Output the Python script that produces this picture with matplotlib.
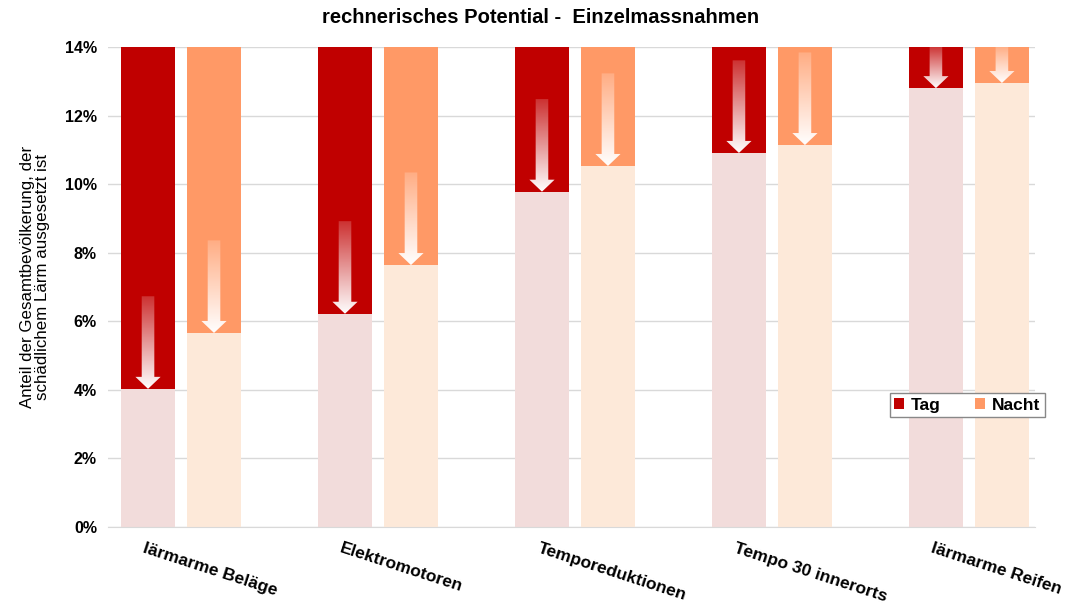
import matplotlib.pyplot as plt
import numpy as np
from matplotlib.patches import Polygon

plt.rcParams['font.family'] = ['Liberation Sans', 'DejaVu Sans']

categories = ['lärmarme Beläge', 'Elektromotoren', 'Temporeduktionen',
              'Tempo 30 innerorts', 'lärmarme Reifen']
tag = [4.03, 6.22, 9.78, 10.91, 12.80]      # % after measure, day
nacht = [5.66, 7.64, 10.53, 11.14, 12.95]   # % after measure, night
baseline = 14.0                              # % before measures
arrow_len = 2.7

tag_dark, tag_light = '#C00000', '#F2DCDB'
nacht_dark, nacht_light = '#FF9966', '#FDE9D9'

fig = plt.figure(figsize=(10.76, 6.1), dpi=100)
ax = fig.add_axes([0.1004, 0.136, 0.8615, 0.787])

x = np.arange(len(categories))
w = 0.274
off = 0.335

ax.bar(x, tag, w, color=tag_light, zorder=2)
ax.bar(x, baseline - np.array(tag), w, bottom=tag, color=tag_dark, zorder=2, label='Tag')
ax.bar(x + off, nacht, w, color=nacht_light, zorder=2)
ax.bar(x + off, baseline - np.array(nacht), w, bottom=nacht, color=nacht_dark, zorder=2, label='Nacht')


def grad_arrow(xc, top, tip):
    sw = 0.032   # half shaft width
    hw = 0.064   # half head width
    hl = 0.35    # head length (in %)
    pts = [(xc - sw, top), (xc + sw, top), (xc + sw, tip + hl), (xc + hw, tip + hl),
           (xc, tip), (xc - hw, tip + hl), (xc - sw, tip + hl)]
    poly = Polygon(pts, closed=True, facecolor='none', edgecolor='none')
    ax.add_patch(poly)
    n = 100
    img = np.ones((n, 2, 4))
    img[:, :, 3] = np.linspace(0.2, 1.0, n)[:, None]
    im = ax.imshow(img, extent=(xc - hw, xc + hw, tip, top), origin='upper',
                   aspect='auto', zorder=3, interpolation='bilinear')
    im.set_clip_path(poly)


for i in range(len(categories)):
    grad_arrow(x[i], min(tag[i] + arrow_len, baseline), tag[i])
    grad_arrow(x[i] + off, min(nacht[i] + arrow_len, baseline), nacht[i])

ax.set_xlim(-0.203, 4.503)
ax.set_ylim(0, 14)
ax.set_yticks(np.arange(0, 15, 2))
ax.set_yticklabels(['%d%%' % v for v in range(0, 15, 2)], fontweight='bold', fontsize=11.5)
ax.yaxis.grid(True, color='#D9D9D9', linewidth=1, zorder=0)
ax.set_axisbelow(True)
ax.tick_params(axis='y', length=0, pad=8)
ax.tick_params(axis='x', length=0)
for s in ['top', 'right', 'left']:
    ax.spines[s].set_visible(False)
ax.spines['bottom'].set_color('#D9D9D9')

ax.set_xticks(x - 0.01)
ax.set_xticklabels(categories, rotation=-18, ha='left', rotation_mode='anchor',
                   fontweight='bold', fontsize=12.5)
ax.tick_params(axis='x', pad=10)

ax.set_ylabel('Anteil der Gesamtbevölkerung, der\nschädlichem Lärm ausgesetzt ist',
              fontsize=12.2, linespacing=0.95, labelpad=8)
ax.yaxis.set_label_coords(-0.063, 0.52)
fig.text(0.502, 0.972, 'rechnerisches Potential -  Einzelmassnahmen',
         ha='center', va='center', fontweight='bold', fontsize=14.5)

leg = ax.legend(loc='center', bbox_to_anchor=(0.927, 0.254), ncol=2,
                prop={'weight': 'bold', 'size': 12.5}, handlelength=0.55, handleheight=0.55,
                handletextpad=0.4, columnspacing=2.0, fancybox=False, framealpha=1,
                borderpad=0.25)
leg.get_frame().set_edgecolor('#888888')

plt.savefig('out.png', dpi=100)
